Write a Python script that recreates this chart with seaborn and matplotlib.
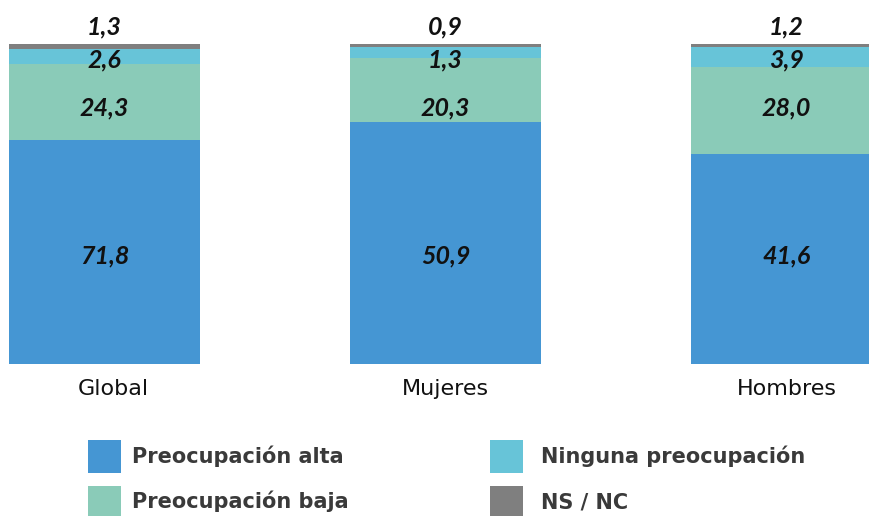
import numpy as np
import pandas as pd
import matplotlib
matplotlib.use("Agg")
import matplotlib.pyplot as plt
import matplotlib.transforms as mtransforms
import seaborn as sns
from matplotlib.patches import Patch

# data (share of each bar, drawn heights)
grupos = ["Global", "Mujeres", "Hombres"]
alta = [70.0, 75.5, 65.5]
baja = [23.8, 20.0, 27.3]
ninguna = [4.7, 3.5, 6.3]
nsnc = [1.5, 1.0, 0.9]

# printed value labels
lab_alta = ["71,8", "50,9", "41,6"]
lab_baja = ["24,3", "20,3", "28,0"]
lab_ninguna = ["2,6", "1,3", "3,9"]
lab_nsnc = ["1,3", "0,9", "1,2"]

series = ["Preocupación alta", "Preocupación baja", "Ninguna preocupación", "NS / NC"]
colores = ["#4596D3", "#8ACBB8", "#67C4D8", "#7F7F7F"]

sns.set_theme(style="white")
plt.rcParams["font.family"] = ["DejaVu Sans"]

df = pd.DataFrame({"grupo": grupos, "alta": alta, "baja": baja,
                   "ninguna": ninguna, "nsnc": nsnc})
df["c1"] = df["alta"]
df["c2"] = df["c1"] + df["baja"]
df["c3"] = df["c2"] + df["ninguna"]
df["c4"] = df["c3"] + df["nsnc"]

fig = plt.figure(figsize=(8.69, 5.16), dpi=100)
ax = fig.add_axes([0.0, 1 - 364 / 516, 1.0, 320 / 516])

# stacked by overlaying cumulative totals, tallest first
for col, color in zip(["c4", "c3", "c2", "c1"], colores[::-1]):
    sns.barplot(data=df, x="grupo", y=col, color=color, width=0.56,
                saturation=1, ax=ax, linewidth=0)

ax.set_xlim(-0.306, 2.242)
ax.set_ylim(0, 100)
sns.despine(ax=ax, left=True, bottom=True)
ax.set_yticks([])
ax.set_ylabel("")
ax.set_xlabel("")
ax.tick_params(axis="x", length=0, pad=11, labelsize=16, labelcolor="#111111")
# first label sits a bit right of its bar in the original
lbl = ax.get_xticklabels()[0]
lbl.set_transform(lbl.get_transform() +
                  mtransforms.ScaledTranslation(9 / 100, 0, fig.dpi_scale_trans))

# labels sit at the same height for every bar (as in the original),
# taken from the centres of the first bar's segments
g = df.iloc[0]
y_alta = g["c1"] / 2
y_baja = (g["c1"] + g["c2"]) / 2
y_ning = (g["c2"] + g["c3"]) / 2
y_ns = g["c4"] + 5.3
txt = dict(ha="center", va="center", fontsize=18, fontstyle="italic",
           fontweight="bold", color="#111111", family=["Lato", "DejaVu Sans"])
for i in range(len(grupos)):
    ax.text(i, y_alta - 1.2, lab_alta[i], **txt)
    ax.text(i, y_baja - 1.8, lab_baja[i], **txt)
    ax.text(i, y_ning - 1.0, lab_ninguna[i], **txt)
    ax.text(i, y_ns, lab_nsnc[i], clip_on=False, **txt)

handles = [Patch(facecolor=c, edgecolor="none") for c in colores]
leg_kw = dict(loc="upper left", frameon=False,
              prop={"weight": "bold", "size": 15}, labelcolor="#3a3a3a",
              handlelength=1.6, handleheight=2.0,
              labelspacing=0.63, borderaxespad=0)
fig.legend(handles[:2], series[:2], handletextpad=0.5,
           bbox_to_anchor=((90 - 10.4) / 869, 1 - 432 / 516), **leg_kw)
fig.legend(handles[2:], series[2:], handletextpad=0.85,
           bbox_to_anchor=((492 - 10.4) / 869, 1 - 432 / 516), **leg_kw)

fig.savefig("out.png", dpi=100)
